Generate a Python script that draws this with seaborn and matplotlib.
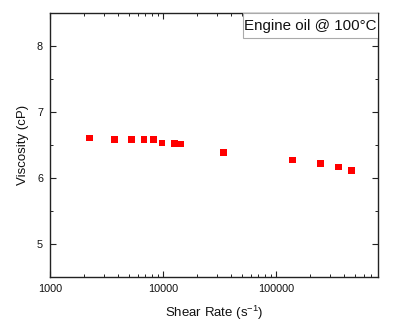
import matplotlib
matplotlib.use("Agg")
import matplotlib.pyplot as plt
import matplotlib.patches as mpatches
import seaborn as sns
import pandas as pd
from matplotlib.ticker import FixedLocator, MultipleLocator, LogLocator, NullFormatter, FuncFormatter

shear_rate = [2230, 3735, 5245, 6790, 8265, 9800, 12690, 14230, 34430, 140400, 246700, 356300, 467500]
viscosity = [6.606, 6.581, 6.581, 6.581, 6.581, 6.535, 6.525, 6.515, 6.384, 6.273, 6.222, 6.167, 6.111]
x_ticks = [1000, 10000, 100000]
y_ticks = [5, 6, 7, 8]
label_text = "Engine oil @ 100°C"

sns.set_style("ticks")
plt.rcParams['font.family'] = ['Liberation Sans', 'DejaVu Sans']
plt.rcParams['mathtext.fontset'] = 'custom'
plt.rcParams['mathtext.rm'] = 'Liberation Sans'

df = pd.DataFrame({"Shear Rate": shear_rate, "Viscosity": viscosity})

fig = plt.figure(figsize=(4.0, 3.29), dpi=100)
ax = fig.add_axes([0.125, 0.158, 0.82, 0.802])
sns.scatterplot(data=df, x="Shear Rate", y="Viscosity", marker="s", s=22,
                color="#ff0000", edgecolor="none", linewidth=0, ax=ax, legend=False)

ax.set_xscale("log")
ax.set_xlim(1000, 8e5)
ax.set_ylim(4.5, 8.5)
ax.xaxis.set_major_locator(FixedLocator(x_ticks))
ax.xaxis.set_major_formatter(FuncFormatter(lambda v, p: f"{int(round(v))}"))
ax.xaxis.set_minor_locator(LogLocator(base=10, subs=range(2, 10)))
ax.xaxis.set_minor_formatter(NullFormatter())
ax.yaxis.set_major_locator(FixedLocator(y_ticks))
ax.yaxis.set_minor_locator(MultipleLocator(0.5))

for s in ax.spines.values():
    s.set_visible(True)
    s.set_color("#222222")
    s.set_linewidth(1.0)

ax.tick_params(which="both", direction="in", top=True, right=True, colors="#222222",
               labelsize=7.8, labelcolor="#111111")
ax.tick_params(which="major", length=4, width=0.8, pad=5)
ax.tick_params(which="minor", length=2.2, width=0.7)

ax.set_xlabel("Shear Rate (s$^{-1}$)", fontsize=9.5, labelpad=7, color="#111111")
ax.set_ylabel("Viscosity (cP)", fontsize=9.5, labelpad=5.5, color="#111111")

box = mpatches.Rectangle((0.588, 0.905), 0.412, 0.095, transform=ax.transAxes,
                         facecolor="white", edgecolor="#aaaaaa", linewidth=0.8, zorder=4)
ax.add_patch(box)
ax.text(0.794, 0.951, label_text, transform=ax.transAxes, ha="center", va="center",
        fontsize=10.9, color="#111111", zorder=5)

fig.savefig("out.png", dpi=100)
